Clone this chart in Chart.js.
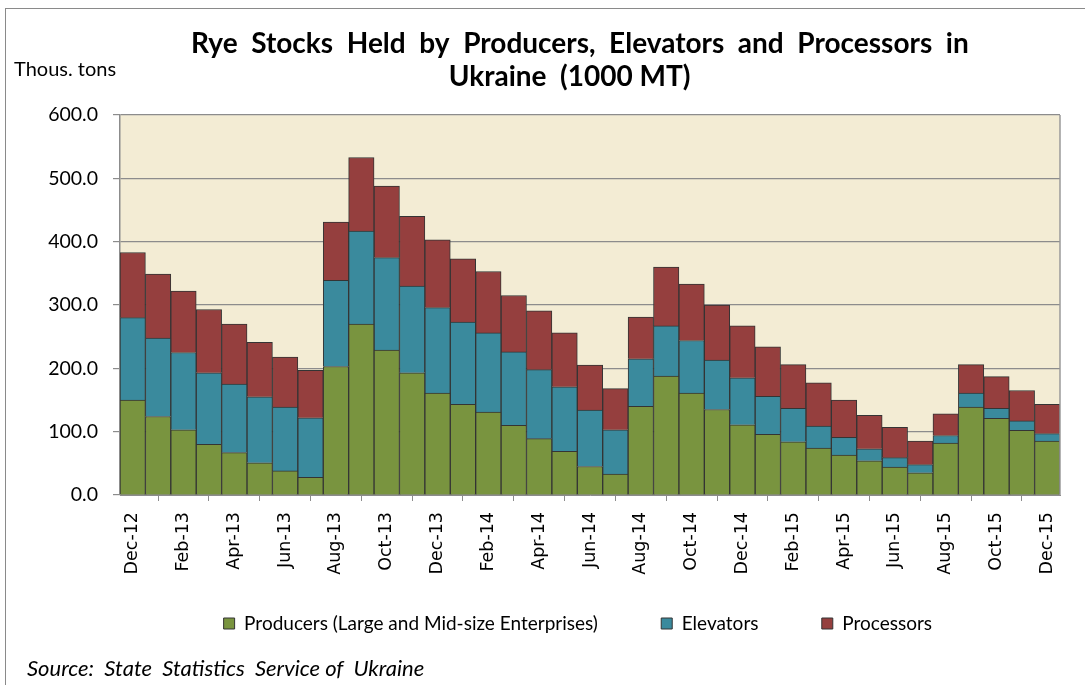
<!DOCTYPE html>
<html>
<head>
<meta charset="utf-8">
<script src="https://cdn.jsdelivr.net/npm/chart.js@4.4.1/dist/chart.umd.min.js"></script>
<style>
  html, body { margin: 0; padding: 0; background: #fff; }
  #wrap { position: relative; width: 1085px; height: 685px; overflow: hidden; }
  #frame { position: absolute; left: 5px; top: 8px; width: 1200px; height: 800px;
           border-left: 1px solid #8a8a8a; border-top: 1px solid #8a8a8a; }
  canvas { position: absolute; left: 0; top: 0; }
  .txt { position: absolute; font-family: Lato, "Open Sans", sans-serif; color: #000; white-space: pre; }
  #unit { left: 14px; top: 56px; font-size: 20px; }
  #source { left: 27px; top: 654px; font-size: 22px; font-style: italic; }
</style>
</head>
<body>
<div id="wrap">
  <div id="frame"></div>
  <canvas id="chart" width="1085" height="685"></canvas>
  <div id="unit" class="txt">Thous. tons</div>
  <div id="source" class="txt">Source:  State  Statistics  Service of  Ukraine</div>
</div>
<script>
// monthly stocks, thousand tons
const months = [
  'Dec-12', 'Jan-13', 'Feb-13', 'Mar-13', 'Apr-13', 'May-13', 'Jun-13', 'Jul-13',
  'Aug-13', 'Sep-13', 'Oct-13', 'Nov-13', 'Dec-13', 'Jan-14', 'Feb-14', 'Mar-14',
  'Apr-14', 'May-14', 'Jun-14', 'Jul-14', 'Aug-14', 'Sep-14', 'Oct-14', 'Nov-14',
  'Dec-14', 'Jan-15', 'Feb-15', 'Mar-15', 'Apr-15', 'May-15', 'Jun-15', 'Jul-15',
  'Aug-15', 'Sep-15', 'Oct-15', 'Nov-15', 'Dec-15'
];
const producers = [150, 124, 103, 80, 67, 51, 38, 28, 203, 270, 229, 193, 161, 143, 131, 110,
  89, 69, 45, 33, 140, 188, 161, 135, 111, 96, 84, 74, 63, 54, 44, 35, 82, 139, 121, 102, 85];
const elevators = [130, 124, 122, 113, 108, 104, 101, 94, 136, 147, 146, 137, 135, 130, 125, 116,
  109, 102, 89, 70, 75, 79, 83, 78, 74, 60, 53, 35, 28, 19, 15, 13, 12, 22, 16, 15, 12];
const processors = [103, 101, 97, 100, 95, 86, 79, 75, 92, 116, 113, 110, 107, 100, 97, 89,
  93, 85, 71, 65, 66, 93, 89, 87, 82, 78, 69, 68, 59, 53, 48, 37, 34, 45, 50, 48, 46];
const yTicks = [0, 100, 200, 300, 400, 500, 600];

const seriesNames = ['Producers (Large and Mid-size Enterprises)', 'Elevators', 'Processors'];
const seriesColors = ['#79943f', '#3a8a9d', '#953f3e'];
const gridGray = '#8c8c8c';
const font = 'Lato, "Open Sans", sans-serif';

// plot area fill + right edge, like the Excel plot area
const plotArea = {
  id: 'plotArea',
  beforeDraw(chart) {
    const { ctx, chartArea: a } = chart;
    ctx.save();
    ctx.fillStyle = '#f3ecd4';
    ctx.fillRect(a.left, a.top, a.right - a.left, a.bottom - a.top);
    ctx.restore();
  },
  afterDatasetsDraw(chart) {
    const { ctx, chartArea: a } = chart;
    ctx.save();
    ctx.strokeStyle = '#9a9a9a';
    ctx.lineWidth = 1.5;
    ctx.beginPath();
    ctx.moveTo(a.right, a.top);
    ctx.lineTo(a.right, a.bottom);
    ctx.stroke();
    ctx.restore();
  }
};

const datasets = [producers, elevators, processors].map((vals, i) => ({
  label: seriesNames[i],
  data: vals,
  backgroundColor: seriesColors[i],
  borderColor: '#343434',
  borderWidth: 1,
  barPercentage: 1,
  categoryPercentage: 1
}));

new Chart(document.getElementById('chart'), {
  type: 'bar',
  data: { labels: months, datasets },
  plugins: [plotArea],
  options: {
    responsive: false,
    animation: false,
    layout: { padding: { left: 40, right: 25, top: 0, bottom: 42 } },
    plugins: {
      title: {
        display: true,
        fullSize: false,
        // trailing blanks nudge the centred text left, as in the original
        text: ['Rye  Stocks  Held  by  Producers,  Elevators  and  Processors  in   ', 'Ukraine  (1000 MT)      '],
        color: '#000',
        font: { family: font, size: 28, weight: 'bold', lineHeight: 1.18 },
        padding: { top: 27, bottom: 22 }
      },
      legend: {
        position: 'bottom',
        fullSize: false,
        labels: {
          color: '#000',
          font: { family: font, size: 19 },
          boxWidth: 11,
          boxHeight: 11,
          padding: 39,
          generateLabels(chart) {
            const items = Chart.defaults.plugins.legend.labels.generateLabels(chart);
            items.forEach(it => { it.text += '     '; });
            return items;
          }
        }
      },
      tooltip: { enabled: false }
    },
    scales: {
      x: {
        stacked: true,
        afterFit(scale) { scale.height = 80; },
        grid: { offset: true, drawOnChartArea: false, drawTicks: true, tickLength: 6, color: gridGray },
        border: { color: gridGray },
        ticks: {
          autoSkip: false,
          maxRotation: 90,
          minRotation: 90,
          padding: 11,
          color: '#000',
          font: { family: '"DejaVu Sans", sans-serif', size: 17.5 },
          callback(value, index) { return index % 2 === 0 ? months[index] : null; }
        }
      },
      y: {
        stacked: true,
        min: yTicks[0],
        max: yTicks[yTicks.length - 1],
        afterFit(scale) { scale.width = 80; },
        afterBuildTicks(scale) { scale.ticks = yTicks.map(v => ({ value: v })); },
        grid: { color: gridGray, lineWidth: 1.2, tickLength: 7 },
        border: { color: gridGray, width: 1.5 },
        ticks: {
          padding: 15,
          color: '#000',
          font: { family: font, size: 19.5 },
          callback: v => v.toFixed(1)
        }
      }
    }
  }
});
</script>
</body>
</html>
